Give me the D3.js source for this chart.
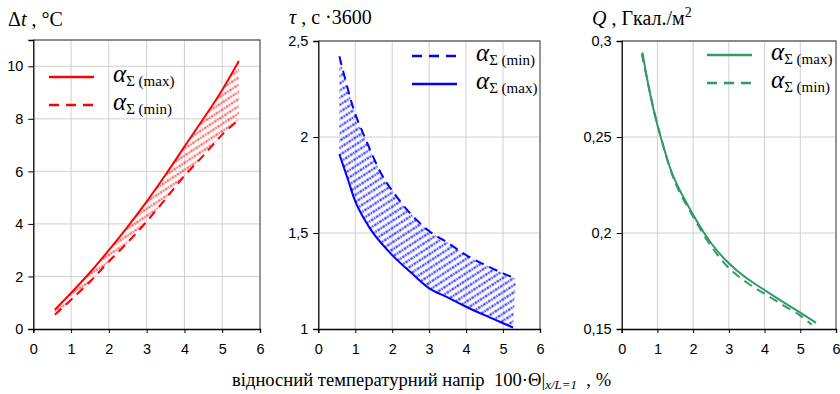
<!DOCTYPE html>
<html>
<head>
<meta charset="utf-8">
<script src="https://cdn.jsdelivr.net/npm/d3@7"></script>
<style>
body { margin: 0; background: #fff; }
svg { display: block; }
.tick text { font-family: "Liberation Sans", Arial, sans-serif; font-size: 14.5px; fill: #000; }
.ttl { font-family: "Liberation Serif", "Times New Roman", serif; fill: #000; }
</style>
</head>
<body>
<script>
// x ticks shared by all three plots
var xTicks = [0, 1, 2, 3, 4, 5, 6];

// plot 1: delta t, C
var dtMaxX = [0.57, 1, 1.5, 2, 2.5, 3, 3.5, 4, 4.5, 5, 5.44];
var dtMax  = [0.73, 1.37, 2.15, 3.0, 3.9, 4.85, 5.87, 6.94, 8.0, 9.1, 10.2];
var dtMinX = [0.57, 1, 1.5, 2, 2.5, 3, 3.5, 4, 4.5, 5, 5.44];
var dtMin  = [0.54, 1.11, 1.8, 2.57, 3.3, 4.09, 4.95, 5.83, 6.6, 7.4, 7.97];
var dtTicks = [0, 2, 4, 6, 8, 10];

// plot 2: tau, c*3600
var tauMinX = [0.57, 0.8, 1, 1.3, 1.7, 2, 2.5, 3, 3.5, 4, 4.5, 5, 5.35];
var tauMin  = [2.42, 2.25, 2.12, 1.98, 1.81, 1.72, 1.6, 1.51, 1.45, 1.385, 1.335, 1.29, 1.262];
var tauMaxX = [0.57, 0.8, 1, 1.25, 1.5, 2, 2.5, 3, 3.5, 4, 4.5, 5, 5.27];
var tauMax  = [1.91, 1.78, 1.665, 1.57, 1.495, 1.385, 1.295, 1.212, 1.165, 1.116, 1.072, 1.03, 1.008];
var tauTicks = [1, 1.5, 2, 2.5];

// plot 3: Q, Gcal/m2
var qMaxX = [0.58, 0.8, 1, 1.45, 2, 2.5, 3, 3.5, 4, 4.5, 5, 5.44];
var qMax  = [0.294, 0.272, 0.2563, 0.2293, 0.2095, 0.1948, 0.1842, 0.1764, 0.1703, 0.1643, 0.1585, 0.1532];
var qMinX = [0.56, 0.8, 1, 1.5, 2, 2.5, 3, 3.5, 4, 4.5, 5, 5.32];
var qMin  = [0.2935, 0.2725, 0.2565, 0.2262, 0.2085, 0.1932, 0.1818, 0.1742, 0.1684, 0.1626, 0.157, 0.1522];
var qTicks = [0.15, 0.2, 0.25, 0.3];

var W = 840, H = 394;
var svg = d3.select("body").append("svg").attr("width", W).attr("height", H);

// hatch patterns
var defs = svg.append("defs");
function hatch(id, col, op) {
    var p = defs.append("pattern")
        .attr("id", id)
        .attr("patternUnits", "userSpaceOnUse")
        .attr("width", 6).attr("height", 6)
        .attr("patternTransform", "rotate(-33)");
    p.append("line")
        .attr("x1", 0).attr("y1", 3).attr("x2", 6).attr("y2", 3)
        .attr("stroke", col).attr("stroke-width", 2.6)
        .attr("stroke-opacity", op)
        .attr("stroke-dasharray", "1.6,1");
}
hatch("hRed", "#ff0000", 0.6);
hatch("hBlue", "#0000ff", 0.75);

function pts(xs, ys) { return xs.map(function(d, i) { return [d, ys[i]]; }); }
var comma = function(d) { return String(d).replace(".", ","); };

function panel(o) {
    var x = d3.scaleLinear().domain([0, 6]).range([o.x0, o.x1]);
    var y = d3.scaleLinear().domain(o.ydom).range([329, o.top]);
    var g = svg.append("g");

    // grid
    g.selectAll(".vg").data(xTicks.slice(1)).enter().append("line")
        .attr("x1", function(d) { return x(d); }).attr("x2", function(d) { return x(d); })
        .attr("y1", o.top).attr("y2", 329)
        .attr("stroke", "#d0d0d0").attr("stroke-width", 1);
    g.selectAll(".hg").data(o.yticks.slice(1)).enter().append("line")
        .attr("x1", o.x0).attr("x2", o.x1)
        .attr("y1", function(d) { return y(d); }).attr("y2", function(d) { return y(d); })
        .attr("stroke", "#d0d0d0").attr("stroke-width", 1);
    // frame top & right
    g.append("path")
        .attr("d", "M" + o.x0 + "," + o.top + "H" + o.x1 + "V329")
        .attr("fill", "none").attr("stroke", "#6a6a6a").attr("stroke-width", 1.3);

    var line = d3.line().x(function(d) { return x(d[0]); }).y(function(d) { return y(d[1]); })
        .curve(d3.curveCatmullRom.alpha(0.5));

    if (o.fill) {
        var d1 = line(o.a), d2 = line(o.b.slice().reverse());
        g.append("path")
            .attr("d", d1 + "L" + d2.slice(1) + "Z")
            .attr("fill", "url(#" + o.fill + ")");
    }
    g.append("path").attr("d", line(o.a)).attr("fill", "none")
        .attr("stroke", o.col).attr("stroke-width", 2)
        .attr("stroke-dasharray", o.aDash ? "9,6" : null);
    g.append("path").attr("d", line(o.b)).attr("fill", "none")
        .attr("stroke", o.col).attr("stroke-width", 2)
        .attr("stroke-dasharray", o.bDash ? "9,6" : null);

    // axes
    g.append("g").attr("transform", "translate(0,329)")
        .call(d3.axisBottom(x).tickValues(xTicks).tickSize(4).tickPadding(11).tickFormat(d3.format("d")))
        .call(function(s) { s.select(".domain").attr("stroke", "#000").attr("stroke-width", 1.3); });
    g.append("g").attr("transform", "translate(" + o.x0 + ",0)")
        .call(d3.axisLeft(y).tickValues(o.yticks).tickSize(5).tickPadding(5).tickFormat(comma))
        .call(function(s) { s.select(".domain").attr("stroke", "#000").attr("stroke-width", 1.3); });

    // legend
    o.leg.forEach(function(l, i) {
        var ly = o.legY + i * 28;
        g.append("line").attr("x1", o.legX).attr("x2", o.legX + 45)
            .attr("y1", ly).attr("y2", ly)
            .attr("stroke", o.col).attr("stroke-width", 2.5)
            .attr("stroke-dasharray", l.dash ? "10,7" : null);
        var t = g.append("text").attr("class", "ttl")
            .attr("x", o.legX + 64).attr("y", ly + 5);
        t.append("tspan").attr("font-style", "italic").attr("font-size", 25).text("α");
        t.append("tspan").attr("font-size", 15).attr("dy", 4).text("Σ (" + l.name + ")");
    });
}

panel({x0: 33.3, x1: 260, top: 40, ydom: [0, 11], yticks: dtTicks, col: "#ff0000",
    a: pts(dtMaxX, dtMax), b: pts(dtMinX, dtMin), aDash: false, bDash: true, fill: "hRed",
    legX: 49, legY: 77, leg: [{name: "max", dash: false}, {name: "min", dash: true}]});
panel({x0: 318.3, x1: 540, top: 41, ydom: [1, 2.5], yticks: tauTicks, col: "#0000ff",
    a: pts(tauMinX, tauMin), b: pts(tauMaxX, tauMax), aDash: true, bDash: false, fill: "hBlue",
    legX: 412, legY: 56, leg: [{name: "min", dash: true}, {name: "max", dash: false}]});
panel({x0: 621.7, x1: 836, top: 41, ydom: [0.15, 0.3], yticks: qTicks, col: "#339966",
    a: pts(qMaxX, qMax), b: pts(qMinX, qMin), aDash: false, bDash: true, fill: null,
    legX: 707, legY: 55, leg: [{name: "max", dash: false}, {name: "min", dash: true}]});

// titles
var t1 = svg.append("text").attr("class", "ttl").attr("x", 8).attr("y", 26).attr("font-size", 20);
t1.append("tspan").text("Δ");
t1.append("tspan").attr("font-style", "italic").text("t");
t1.append("tspan").text(" , °C");

var t2 = svg.append("text").attr("class", "ttl").attr("x", 289).attr("y", 24).attr("font-size", 20);
t2.append("tspan").attr("font-style", "italic").text("τ");
t2.append("tspan").text(" , с ·3600");

var t3 = svg.append("text").attr("class", "ttl").attr("x", 592).attr("y", 25).attr("font-size", 20);
t3.append("tspan").attr("font-style", "italic").text("Q");
t3.append("tspan").text(" , Гкал./м");
t3.append("tspan").attr("font-size", 14).attr("dy", -8).text("2");

// x axis title
var xt = svg.append("text").attr("class", "ttl").attr("x", 232).attr("y", 386).attr("font-size", 18.6);
xt.append("tspan").text("відносний температурний напір\u00a0 100·Θ|");
xt.append("tspan").attr("font-style", "italic").attr("font-size", 13).attr("dy", 3).text("x/L=1");
xt.append("tspan").attr("dy", -3).text("\u00a0\u00a0, %");
</script>
</body>
</html>
